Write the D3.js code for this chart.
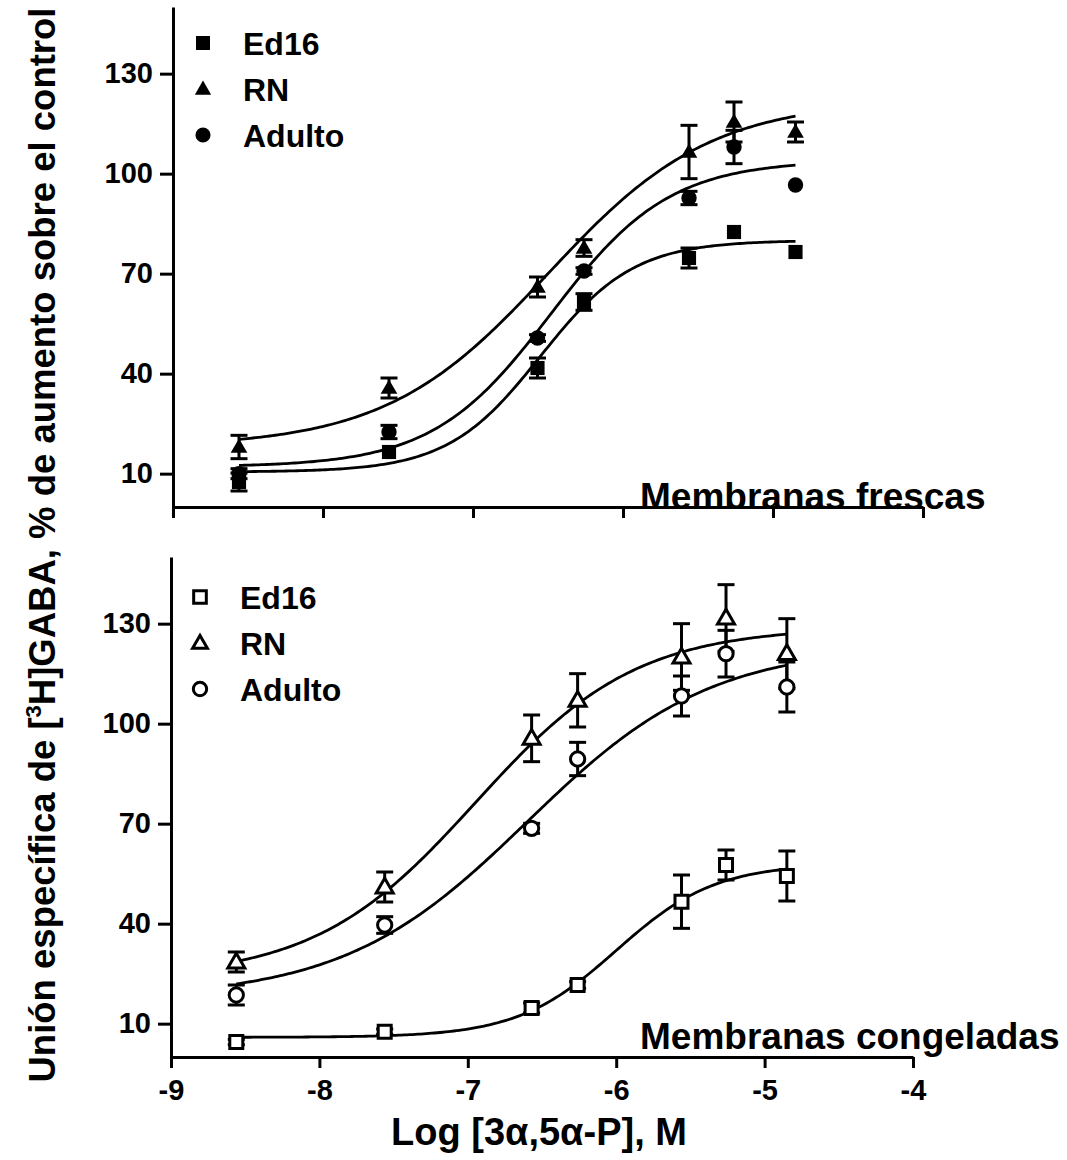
<!DOCTYPE html>
<html>
<head>
<meta charset="utf-8">
<script src="https://cdn.jsdelivr.net/npm/d3@7"></script>
<style>
  body { margin: 0; background: #fff; }
  text { font-family: "Liberation Sans", Arial, sans-serif; font-weight: bold; fill: #000; }
</style>
</head>
<body>
<script>
// ---------- data ----------
const logConc = [-8.56, -7.56, -6.57, -6.26, -5.56, -5.26, -4.85];
const xTicks = [-9, -8, -7, -6, -5, -4];
const yTicks = [10, 40, 70, 100, 130];
const seriesNames = ["Ed16", "RN", "Adulto"];

// Membranas frescas (filled symbols)
const frescasEd16   = [7.5, 16.5, 41.7, 61.5, 74.7, 82.5, 76.5];
const frescasEd16Err= [2.7, 0, 3, 2.5, 3, 0, 0];
const frescasRN     = [18, 35.7, 66, 77.7, 106.5, 115.5, 112.5];
const frescasRNErr  = [3.5, 3, 3, 2.5, 8, 6, 3];
const frescasAd     = [10, 22.5, 50.7, 70.8, 92.7, 108, 96.6];
const frescasAdErr  = [1.5, 2, 1, 1, 2, 5, 0];
// fitted sigmoid parameters: [bottom, top, logEC50, hill]
const fitFrescasEd16 = [10.5, 80, -6.55, 1.4];
const fitFrescasRN   = [18, 122, -6.5, 0.8];
const fitFrescasAd   = [12, 104, -6.48, 1.1];

// Membranas congeladas (open symbols)
const congEd16    = [4.5, 7.6, 14.7, 21.6, 46.6, 57.6, 54.3];
const congEd16Err = [0.8, 0.8, 1.5, 1, 8, 4.5, 7.5];
const congRN      = [28.5, 51, 95.6, 107, 120, 131.7, 121];
const congRNErr   = [3, 4.5, 7, 8, 10, 10, 10.5];
const congAd      = [18.6, 39.6, 68.6, 89.4, 108.3, 121, 111];
const congAdErr   = [3, 2.5, 1.5, 5, 6, 7, 7.5];
const fitCongEd16 = [5.9, 58, -6.0, 1.3];
const fitCongRN   = [23.5, 129, -6.95, 0.8];
const fitCongAd   = [17.6, 123.5, -6.6, 0.7];

// ---------- drawing ----------
const W = 1067, H = 1160;
const svg = d3.select("body").append("svg").attr("width", W).attr("height", H);

function sigmoid(p, x) {
  const [b, t, c, h] = p;
  return b + (t - b) / (1 + Math.pow(10, (c - x) * h));
}

function drawPanel(cfg) {
  const g = svg.append("g");
  const x = d3.scaleLinear().domain([-9, -4]).range(cfg.xRange);
  const y = d3.scaleLinear().domain([0, 150]).range(cfg.yRange);

  // axes
  const yAxis = g.append("g").attr("transform", `translate(${cfg.xRange[0]},0)`)
    .call(d3.axisLeft(y).tickValues(yTicks).tickSize(13).tickSizeOuter(0).tickPadding(7).tickFormat(d => String(d)));
  const xAxis = g.append("g").attr("transform", `translate(0,${cfg.yRange[0]})`)
    .call(d3.axisBottom(x).tickValues(xTicks).tickSize(11).tickSizeOuter(0).tickPadding(9)
      .tickFormat(cfg.xLabels ? (d => String(d)) : () => ""));
  [yAxis, xAxis].forEach(a => {
    a.select(".domain").attr("stroke", "#000").attr("stroke-width", 3);
    a.selectAll(".tick line").attr("stroke", "#000").attr("stroke-width", 3);
    a.selectAll(".tick text").attr("font-size", 29).attr("font-family", '"Liberation Sans", Arial, sans-serif').attr("font-weight", "bold").attr("fill", "#000");
  });
  xAxis.selectAll(".tick text").attr("dy", "0.78em");

  const xs0 = d3.min(logConc), xs1 = d3.max(logConc);
  const lineGen = d3.line().x(d => x(d[0])).y(d => y(d[1])).curve(d3.curveLinear);
  const sym = {
    square: d3.symbolSquare, triangle: d3.symbolTriangle, circle: d3.symbolCircle
  };

  cfg.series.forEach(s => {
    // fitted curve
    const pts = d3.range(0, 201).map(i => {
      const xv = xs0 + (xs1 - xs0) * i / 200;
      return [xv, sigmoid(s.fit, xv)];
    });
    g.append("path").datum(pts).attr("d", lineGen)
      .attr("fill", "none").attr("stroke", "#000").attr("stroke-width", 2.8);
  });

  cfg.series.forEach(s => {
    // error bars
    const eb = g.append("g").attr("stroke", "#000").attr("stroke-width", 3);
    logConc.forEach((xv, i) => {
      const e = s.err[i];
      if (!e) return;
      const v = s.values[i];
      const px = x(xv), pTop = y(v + e), pBot = y(v - e);
      eb.append("line").attr("x1", px).attr("x2", px).attr("y1", pTop).attr("y2", pBot);
      eb.append("line").attr("x1", px - 8.5).attr("x2", px + 8.5).attr("y1", pTop).attr("y2", pTop);
      eb.append("line").attr("x1", px - 8.5).attr("x2", px + 8.5).attr("y1", pBot).attr("y2", pBot);
    });
  });

  cfg.series.forEach(s => {
    const sizes = cfg.open ? { square: 169, triangle: 125, circle: 160 } : { square: 200, triangle: 120, circle: 185 };
    g.append("g").selectAll("path").data(logConc).join("path")
      .attr("transform", (d, i) => `translate(${x(d)},${y(s.values[i]) + (s.shape === "triangle" ? 1 : 0)})`)
      .attr("d", d3.symbol().type(sym[s.shape]).size(sizes[s.shape]))
      .attr("fill", cfg.open ? "#fff" : "#000")
      .attr("stroke", cfg.open ? "#000" : "none")
      .attr("stroke-width", 3);
  });

  // legend
  const lg = g.append("g");
  cfg.series.forEach((s, i) => {
    const cy = cfg.legendY + i * cfg.legendStep;
    const sizes = cfg.open ? { square: 160, triangle: 95, circle: 140 } : { square: 195, triangle: 115, circle: 180 };
    lg.append("path")
      .attr("transform", `translate(${cfg.legendSymX},${cy + (s.shape === "triangle" ? 1 : 0)})`)
      .attr("d", d3.symbol().type(sym[s.shape]).size(sizes[s.shape]))
      .attr("fill", cfg.open ? "#fff" : "#000")
      .attr("stroke", cfg.open ? "#000" : "none").attr("stroke-width", 3);
    lg.append("text").attr("x", cfg.legendTextX).attr("y", cy + 12)
      .attr("font-size", 32).text(s.name);
  });

  g.append("text").attr("x", 640).attr("y", cfg.panelLabelY).attr("font-size", 37).text(cfg.panelLabel);
}

drawPanel({
  xRange: [173, 923], yRange: [507, 7], xLabels: false, open: false,
  series: [
    { name: seriesNames[0], shape: "square", values: frescasEd16, err: frescasEd16Err, fit: fitFrescasEd16 },
    { name: seriesNames[1], shape: "triangle", values: frescasRN, err: frescasRNErr, fit: fitFrescasRN },
    { name: seriesNames[2], shape: "circle", values: frescasAd, err: frescasAdErr, fit: fitFrescasAd }
  ],
  legendY: 43, legendStep: 46, legendSymX: 203, legendTextX: 243,
  panelLabel: "Membranas frescas", panelLabelY: 509
});

drawPanel({
  xRange: [171, 913], yRange: [1057, 557], xLabels: true, open: true,
  series: [
    { name: seriesNames[0], shape: "square", values: congEd16, err: congEd16Err, fit: fitCongEd16 },
    { name: seriesNames[1], shape: "triangle", values: congRN, err: congRNErr, fit: fitCongRN },
    { name: seriesNames[2], shape: "circle", values: congAd, err: congAdErr, fit: fitCongAd }
  ],
  legendY: 597, legendStep: 46, legendSymX: 200, legendTextX: 240,
  panelLabel: "Membranas congeladas", panelLabelY: 1049
});

// x axis title
svg.append("text").attr("x", 539).attr("y", 1145).attr("text-anchor", "middle")
  .attr("font-size", 38).text("Log [3α,5α-P], M");

// y axis title
const yt = svg.append("text").attr("transform", "translate(55,545) rotate(-90)")
  .attr("text-anchor", "middle").attr("font-size", 36.5);
yt.append("tspan").text("Unión específica de [");
yt.append("tspan").attr("font-size", 22).attr("dy", -14).text("3");
yt.append("tspan").attr("dy", 14).text("H]GABA, % de aumento sobre el control");
</script>
</body>
</html>
